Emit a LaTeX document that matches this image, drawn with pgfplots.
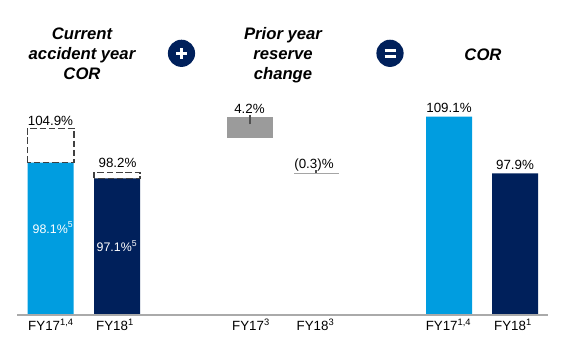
\documentclass[border=0pt]{standalone}
\usepackage{fontspec}
\setmainfont{Liberation Sans}
\usepackage{pgfplots}
\pgfplotsset{compat=1.18}
\definecolor{cyanb}{RGB}{0,157,224}
\definecolor{navyb}{RGB}{0,32,91}
\definecolor{bargray}{RGB}{155,155,155}
\definecolor{linegray}{RGB}{165,165,165}
\definecolor{axisgray}{RGB}{170,170,170}
\definecolor{dashgray}{RGB}{64,64,64}
\definecolor{tickgray}{RGB}{80,80,80}
\begin{document}
\begin{tikzpicture}
\begin{axis}[
  at={(12.975pt,35.25pt)}, anchor=south west,
  scale only axis, width=398.025pt, height=236.25pt,
  xmin=17.3, xmax=548, ymin=69.86, ymax=132.19,
  axis x line=bottom, axis y line=none,
  xtick=\empty, ytick=\empty,
  axis line style={-, draw=axisgray, line width=1.1pt},
  axis on top,
]
% solid bars (current accident year COR and COR)
\addplot[ybar, bar width=46, bar shift=0pt, fill=cyanb, draw=none] coordinates {(50.65,100.0) (449,109.1)};
\addplot[ybar, bar width=46, bar shift=0pt, fill=navyb, draw=none] coordinates {(117.15,96.9) (515,97.9)};
% dashed boxes
\addplot[draw=dashgray, line width=1.1pt, dash pattern=on 4.9pt off 2.1pt] coordinates {(27.3,100.0) (27.3,106.8) (74,106.8) (74,100.0)} -- cycle;
\addplot[draw=dashgray, line width=1.1pt, dash pattern=on 4.9pt off 2.1pt] coordinates {(94.2,96.9) (94.2,98.1) (140.1,98.1) (140.1,96.9)} -- cycle;
% prior year reserve change
\addplot[fill=bargray, draw=none] coordinates {(227.3,104.9) (227.3,109.1) (272.7,109.1) (272.7,104.9)} -- cycle;
\addplot[draw=tickgray, line width=1.2pt] coordinates {(250,107.6) (250,109.45)};
\addplot[fill=linegray, draw=none] coordinates {(294,97.75) (294,98.02) (339.3,98.02) (339.3,97.75)} -- cycle;
\addplot[draw=tickgray, line width=0.8pt] coordinates {(316,97.9) (316,98.5)};
\end{axis}
\begin{scope}[x=0.75pt, y=-0.75pt, shift={(0pt,271.5pt)}]
\tikzset{lab/.style={anchor=base, inner sep=0pt, font=\fontsize{10}{12}\selectfont},
         ttl/.style={anchor=base, inner sep=0pt, font=\fontsize{12.5}{15}\selectfont\bfseries\itshape}}
% titles
\node[ttl] at (82,39.3) {Current};
\node[ttl] at (82,59.3) {accident year};
\node[ttl] at (82,79.3) {COR};
\node[ttl] at (283,39.3) {Prior year};
\node[ttl] at (283,59.3) {reserve};
\node[ttl] at (283,79.3) {change};
\node[ttl] at (483,60.5) {COR};
% operator circles
\fill[navyb] (181.5,53.3) circle (10.2pt);
\draw[white, line width=1.8pt] (176.3,53.3) -- (186.7,53.3) (181.5,48.1) -- (181.5,58.5);
\fill[navyb] (390,53.3) circle (10.2pt);
\draw[white, line width=1.9pt] (384.5,50.5) -- (395.5,50.5) (384.5,56.3) -- (395.5,56.3);
% value labels
\node[lab] at (50.5,125) {104.9\%};
\node[lab] at (117.5,167.3) {98.2\%};
\node[lab] at (249.5,113.3) {4.2\%};
\node[lab] at (314,168.5) {(0.3)\%};
\node[lab] at (449,112.7) {109.1\%};
\node[lab] at (515,169) {97.9\%};
\node[lab, text=white, font=\fontsize{9.3}{11}\selectfont] at (53,233) {98.1\%\textsuperscript{5}};
\node[lab, text=white, font=\fontsize{9.3}{11}\selectfont] at (117,251.7) {97.1\%\textsuperscript{5}};
% category labels
\node[lab] at (51,330.5) {FY17\textsuperscript{1,4}};
\node[lab] at (115,330.5) {FY18\textsuperscript{1}};
\node[lab] at (251,330.5) {FY17\textsuperscript{3}};
\node[lab] at (315.5,330.5) {FY18\textsuperscript{3}};
\node[lab] at (448.5,330.5) {FY17\textsuperscript{1,4}};
\node[lab] at (513,330.5) {FY18\textsuperscript{1}};
\end{scope}
\pgfresetboundingbox
\path[use as bounding box] (0,0) rectangle (435.75pt,271.5pt);
\end{tikzpicture}
\end{document}
